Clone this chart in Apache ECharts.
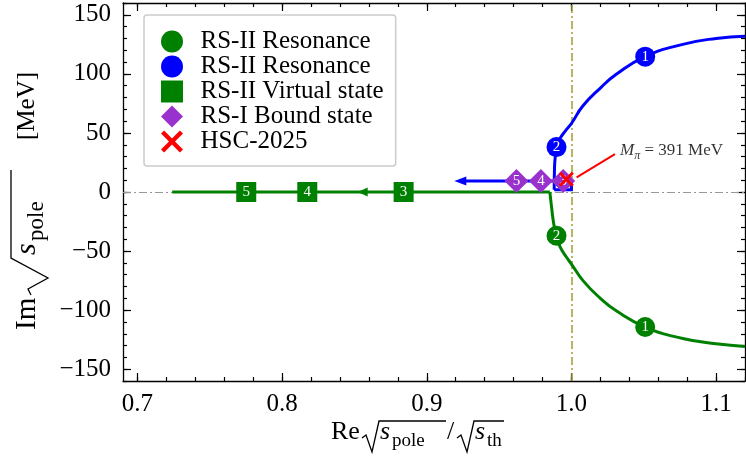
<!DOCTYPE html>
<html><head><meta charset="utf-8">
<script src="https://cdn.jsdelivr.net/npm/echarts@6/dist/echarts.min.js"></script>
<style>html,body{margin:0;padding:0;background:#fff}#c{width:746px;height:460px}</style>
</head><body><div id="c"></div>
<script>
// ---- data ----
const xTicks = [0.7, 0.8, 0.9, 1.0, 1.1];
const yTicks = [-150, -100, -50, 0, 50, 100, 150];
const greenRealLine = [[0.724, 0], [0.9851, 0]];
const greenCurve = [[0.9851, 0], [0.9862, -12], [0.9878, -27], [0.9897, -37], [0.992, -46], [0.9965, -55], [1.0, -61], [1.008, -75], [1.02, -90], [1.031, -100.6], [1.051, -114.3], [1.077, -124], [1.10, -128.5], [1.12, -130.7]];
const blueBound = [[0.9232, 9.4], [1.0, 9.4], [1.0, 2], [0.9881, 2]];
const blueCurve = [[0.9881, 2], [0.9883, 20], [0.989, 32], [0.9897, 38], [0.992, 45], [0.996, 52], [1.0, 58], [1.008, 73], [1.02, 88], [1.031, 99.6], [1.051, 114.6], [1.077, 125], [1.10, 130], [1.12, 131.8]];
const rs2ResGreen = [[0.9897, -37, '2'], [1.051, -114.3, '1']];
const rs2ResBlue = [[0.9897, 38, '2'], [1.051, 114.6, '1']];
const virtualStates = [[0.7752, 0, '5'], [0.8174, 0, '4'], [0.884, 0, '3']];
const boundStates = [[0.962, 9.4, '5'], [0.9789, 9.4, '4'], [0.9943, 9.4, '3']];
const hsc2025 = [[0.9965, 10.8]];
const greenArrow = [[0.8557, 0]];
const blueArrow = [[0.9232, 9.4]];
const annotTail = [1.0301, 32];
const annotTip = [1.0036, 12.3];
const annotText = [1.0336, 34.8];
const names = ['RS-II Resonance', 'RS-II Resonance\u200b', 'RS-II Virtual state', 'RS-I Bound state', 'HSC-2025'];

const xMin = 0.69, xMax = 1.12, yMin = -160, yMax = 160;
const xMinor = []; for (let i = 35; i <= 56; i++) xMinor.push(+(i * 0.02).toFixed(2));
const yMinor = []; for (let i = -16; i <= 16; i++) yMinor.push(i * 10);

const SERIF = 'Liberation Serif';
const black = '#000';
function xAx(pos, major, withLabels) {
  return {
    type: 'value', min: xMin, max: xMax, position: pos,
    axisLine: { show: major, onZero: false, lineStyle: { color: black, width: 1.3 } },
    axisTick: { show: true, inside: true, length: major ? 8 : 4, customValues: major ? xTicks : xMinor, lineStyle: { color: black, width: 1.2 } },
    axisLabel: { show: withLabels, customValues: xTicks, formatter: v => v.toFixed(1), fontFamily: SERIF, fontSize: 25, color: black, margin: 11 },
    splitLine: { show: false }
  };
}
function yAx(pos, major, withLabels) {
  return {
    type: 'value', min: yMin, max: yMax, position: pos,
    axisLine: { show: major, onZero: false, lineStyle: { color: black, width: 1.3 } },
    axisTick: { show: true, inside: true, length: major ? 8 : 4, customValues: major ? yTicks : yMinor, lineStyle: { color: black, width: 1.2 } },
    axisLabel: { show: withLabels, customValues: yTicks, formatter: v => (v < 0 ? '\u2212' + Math.abs(v) : '' + v), fontFamily: SERIF, fontSize: 25, color: black, margin: 12 },
    splitLine: { show: false }
  };
}
const numLabel = { show: true, position: 'inside', formatter: p => p.data[2], color: '#fff', fontFamily: SERIF, fontSize: 15 };
const xPath = 'path://M0,1.4L1.4,0L10,8.6L8.6,10ZM8.6,0L10,1.4L1.4,10L0,8.6Z';

const chart = echarts.init(document.getElementById('c'), null, { renderer: 'canvas' });
const option = {
  animation: false,
  backgroundColor: '#fff',
  grid: { left: 123, right: 1, top: 3, bottom: 79, containLabel: false },
  xAxis: [xAx('bottom', true, true), xAx('bottom', false, false), xAx('top', true, false), xAx('top', false, false)],
  yAxis: [yAx('left', true, true), yAx('left', false, false), yAx('right', true, false), yAx('right', false, false)],
  legend: {
    orient: 'vertical', left: 144, top: 15, padding: [14, 12, 12, 17], itemGap: 0, itemWidth: 22, itemHeight: 22,
    borderColor: '#cccccc', borderWidth: 1.5, borderRadius: 3, backgroundColor: '#fff',
    formatter: n => '  ' + n,
    textStyle: { fontFamily: SERIF, fontSize: 25, lineHeight: 22, color: black }, data: names
  },
  series: [
    { type: 'line', name: 'guides', data: [], z: 1, silent: true,
      markLine: { silent: true, symbol: 'none', animation: false, label: { show: false }, z: 1,
        data: [
          { yAxis: 0, lineStyle: { color: '#999', type: [8, 3, 2, 3], width: 1 } },
          { xAxis: 1.0, lineStyle: { color: '#a39c2c', type: [8, 3, 2, 3], width: 1.5 } }
        ] } },
    { type: 'line', name: 'gline', data: greenRealLine, showSymbol: false, symbol: 'none', lineStyle: { color: 'green', width: 3 }, z: 2 },
    { type: 'line', name: 'gcurve', data: greenCurve, showSymbol: false, symbol: 'none', smooth: 0.5, lineStyle: { color: 'green', width: 3 }, z: 2 },
    { type: 'line', name: 'bline', data: blueBound, showSymbol: false, symbol: 'none', lineStyle: { color: 'blue', width: 3, join: 'miter' }, z: 2 },
    { type: 'line', name: 'bcurve', data: blueCurve, showSymbol: false, symbol: 'none', smooth: 0.5, lineStyle: { color: 'blue', width: 3 }, z: 2 },
    { type: 'scatter', name: 'garrow', data: greenArrow, symbol: 'triangle', symbolRotate: 90, symbolSize: [9, 10], itemStyle: { color: 'green', opacity: 1 }, z: 3 },
    { type: 'scatter', name: 'barrow', data: blueArrow, symbol: 'triangle', symbolRotate: 90, symbolSize: [9, 12], itemStyle: { color: 'blue', opacity: 1 }, z: 3 },
    { type: 'scatter', name: names[0], data: rs2ResGreen, symbol: 'circle', symbolSize: 20, itemStyle: { color: 'green', opacity: 1 }, label: numLabel, z: 5 },
    { type: 'scatter', name: names[1], data: rs2ResBlue, symbol: 'circle', symbolSize: 20, itemStyle: { color: 'blue', opacity: 1 }, label: numLabel, z: 5 },
    { type: 'scatter', name: names[2], data: virtualStates, symbol: 'rect', symbolSize: 20, itemStyle: { color: 'green', opacity: 1 }, label: numLabel, z: 5 },
    { type: 'scatter', name: names[3], data: boundStates, symbol: 'diamond', symbolSize: 24, itemStyle: { color: '#9932CC', opacity: 1 }, label: numLabel, z: 5 },
    { type: 'scatter', name: names[4], data: hsc2025, symbol: xPath, symbolSize: 15, symbolKeepAspect: true, itemStyle: { color: 'red', opacity: 1 }, z: 6 },
    { type: 'scatter', name: 'annot', data: [annotText], symbolSize: 0, z: 6, silent: true,
      label: { show: true, position: 'right', distance: 0, formatter: '{i|M}{s|\u03c0}{n| = 391 MeV}',
        rich: {
          i: { fontFamily: SERIF, fontStyle: 'italic', fontSize: 17, color: black },
          s: { fontFamily: SERIF, fontStyle: 'italic', fontSize: 12, color: black, padding: [9, 0, 0, 0] },
          n: { fontFamily: SERIF, fontSize: 17, color: black }
        } },
      markLine: { silent: true, animation: false, symbol: ['none', 'arrow'], symbolSize: [0, 18], label: { show: false }, z: 6,
        lineStyle: { color: 'red', width: 2, type: 'solid' },
        data: [[{ coord: annotTail }, { coord: annotTip }]] } }
  ],
  graphic: [
    // x axis title
    { type: 'text', left: 331, top: 419, style: { text: 'Re', font: '26px "Liberation Serif"', fill: black } },
    { type: 'polyline', shape: { points: [[362, 438], [366, 435], [372, 452], [379, 421], [446, 421]] }, style: { stroke: black, lineWidth: 1.3, fill: null } },
    { type: 'text', left: 380, top: 419, style: { text: 's', font: 'italic 26px "Liberation Serif"', fill: black } },
    { type: 'text', left: 392, top: 432, style: { text: 'pole', font: '19px "Liberation Serif"', fill: black } },
    { type: 'text', left: 447, top: 419, style: { text: '/', font: '26px "Liberation Serif"', fill: black } },
    { type: 'polyline', shape: { points: [[457, 438], [461, 435], [467, 452], [474, 421], [504, 421]] }, style: { stroke: black, lineWidth: 1.3, fill: null } },
    { type: 'text', left: 475, top: 419, style: { text: 's', font: 'italic 26px "Liberation Serif"', fill: black } },
    { type: 'text', left: 487, top: 432, style: { text: 'th', font: '19px "Liberation Serif"', fill: black } },
    // y axis title (rotated)
    { type: 'group', x: 27, y: 330, rotation: Math.PI / 2, children: [
      { type: 'text', x: 0, y: 0, style: { text: 'Im', font: '29px "Liberation Serif"', fill: black, verticalAlign: 'middle' } },
      { type: 'polyline', shape: { points: [[35, 4], [41, 1], [52, 21], [72, -16], [160, -16]] }, style: { stroke: black, lineWidth: 1.3, fill: null } },
      { type: 'text', x: 75, y: 0, style: { text: 's', font: 'italic 30px "Liberation Serif"', fill: black, verticalAlign: 'middle' } },
      { type: 'text', x: 89, y: 10, style: { text: 'pole', font: '23px "Liberation Serif"', fill: black, verticalAlign: 'middle' } },
      { type: 'text', x: 190, y: 0, style: { text: '[MeV]', font: '25px "Liberation Serif"', fill: black, verticalAlign: 'middle' } }
    ] }
  ]
};
chart.setOption(option);
</script>
</body></html>
